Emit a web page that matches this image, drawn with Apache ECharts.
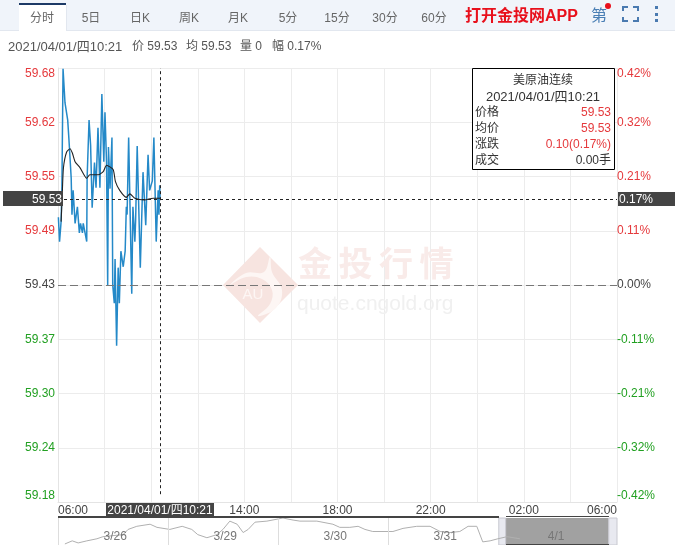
<!DOCTYPE html>
<html>
<head>
<meta charset="utf-8">
<style>html,body{margin:0;padding:0;background:#fff}#main{width:675px;height:545px}</style>
</head>
<body>
<div id="main"></div>
<script src="https://cdn.jsdelivr.net/npm/echarts@6/dist/echarts.min.js"></script>
<script>
// minutes after 06:00 for the intraday line
var priceMinutes = [1,4,8,10,13,18,25,28,32,34,36,39,44,50,55,58,63,65,74,75,80,84,88,94,98,103,106,108,113,118,121,125,128,130,134,139,141,145,147,151,155,158,162,168,173,176,178,182,190,193,198,200,204,212,219,224,226,232,236,243,247,253,258,260,262,263];
var priceValues = [59.508,59.480,59.503,59.539,59.679,59.640,59.620,59.599,59.598,59.553,59.511,59.539,59.501,59.520,59.490,59.501,59.490,59.501,59.480,59.553,59.620,59.591,59.519,59.571,59.542,59.611,59.611,59.542,59.650,59.572,59.629,59.572,59.430,59.589,59.541,59.600,59.430,59.409,59.460,59.360,59.450,59.409,59.469,59.451,59.469,59.520,59.511,59.600,59.420,59.520,59.480,59.505,59.590,59.450,59.560,59.560,59.499,59.580,59.539,59.550,59.600,59.480,59.539,59.511,59.545,59.530];
var avgMinutes = [8,11,14,22,31,37,44,57,74,82,104,117,125,142,148,159,176,185,198,223,245,258,263];
var avgValues = [59.503,59.535,59.565,59.583,59.587,59.582,59.572,59.565,59.553,59.557,59.557,59.561,59.568,59.563,59.549,59.539,59.531,59.535,59.530,59.528,59.530,59.530,59.530];

// overview strip: hours after the start of 3/26
var overviewHours = [1.5,3.1,4.4,6.3,8.5,9.8,12,14.2,15.3,17.2,20.1,21.6,24.4,27.1,29.2,30.5,32.5,34.7,36,37.5,39.1,40.4,41.5,43,45.6,49.1,51.3,52.8,56.5,60,61.5,63.7,65.5,67,68.7,73.1,75.3,78.3,81.2,83.4,85.5,87.7,89.5,91.4,92.7,94.3,96,98,100.8];
var overviewValues = [58.25,59,58.5,59,59.5,60,60.25,60.5,61.75,62.5,63,62.25,61.75,62.5,61.75,60.5,59.75,60.5,61.75,63.75,63,61,61.75,63.5,63.75,64.5,64,63.75,63.75,63,62.25,62.25,62.5,61.75,61.25,61.25,62,62.5,62.5,61.25,61,61.25,62.5,62.5,58.75,59,59.5,60,59.5];
var overviewDays = ['3/26','3/29','3/30','3/31','4/1'];
var overviewDayTicks = [12.5,36.5,60.5,84.5,108.7];

var yTicks = [59.18,59.2425,59.305,59.3675,59.43,59.4925,59.555,59.6175,59.68];
var yLabels = ['59.18','59.24','59.30','59.37','59.43','59.49','59.55','59.62','59.68'];
var pctLabels = ['-0.42%','-0.32%','-0.21%','-0.11%','0.00%','0.11%','0.21%','0.32%','0.42%'];
var xLabels = ['06:00','10:00','14:00','18:00','22:00','02:00','06:00'];
var tabs = ['分时','5日','日K','周K','月K','5分','15分','30分','60分'];
var tabX = [42,91,140,189,238,288,337,385,434];

var prevClose = 59.43, curPrice = 59.529, curMinute = 263;
var curTime = '2021/04/01/四10:21';

var FONT = '"Liberation Sans","Noto Sans CJK SC",sans-serif';
var RED = '#e5393c', GREEN = '#22a022', GREY = '#444';

function zip(a, b) {
    return a.map(function (v, i) { return [v, b[i]]; });
}
function tickColor(v) {
    if (v > prevClose + 0.001) return RED;
    if (v < prevClose - 0.001) return GREEN;
    return GREY;
}
function txt(x, y, s, color, size, align, extra) {
    var st = { text: s, fill: color, font: (size || 12) + 'px ' + FONT, textAlign: align || 'left', textVerticalAlign: 'middle' };
    if (extra && extra.font) st.font = extra.font;
    return { type: 'text', x: x, y: y, z: 100, silent: true, style: st };
}
function rect(x, y, w, h, fill, stroke, z) {
    return { type: 'rect', z: z || 90, silent: true, shape: { x: x, y: y, width: w, height: h }, style: { fill: fill, stroke: stroke || null, lineWidth: 1 } };
}

var els = [];
// top tab bar
els.push(rect(0, 0, 675, 30, '#f0f4fa'));
els.push(rect(0, 30, 675, 1, '#e2e7ef'));
els.push(rect(19, 4, 47, 28, '#fff'));
els.push(rect(19, 3, 47, 2, '#1d3a66', null, 91));
els.push(rect(66, 5, 1, 26, '#e2e7ef', null, 91));
tabs.forEach(function (t, i) {
    els.push(txt(tabX[i], 19, t, '#666', 12, 'center'));
});
els.push(txt(465, 16.5, '打开金投网APP', '#e8101c', 16, 'left', { font: 'bold 16px ' + FONT }));
els.push(txt(599, 17, '第', '#4a7fb5', 16, 'center'));
els.push({ type: 'circle', z: 100, silent: true, shape: { cx: 608, cy: 6, r: 3 }, style: { fill: '#e8101c' } });
[[[623, 11], [623, 7], [628, 7]], [[633, 7], [638, 7], [638, 11]], [[638, 17], [638, 21], [633, 21]], [[628, 21], [623, 21], [623, 17]]].forEach(function (p) {
    els.push({ type: 'polyline', z: 100, silent: true, shape: { points: p }, style: { fill: null, stroke: '#4a7ab0', lineWidth: 2 } });
});
[7, 14, 20].forEach(function (y) {
    els.push(rect(655, y - 1, 3, 3, '#4a7ab0', null, 100));
});

// info line
els.push(txt(8, 47, curTime, '#555', 13));
els.push(txt(132, 47, '价 59.53', '#555'));
els.push(txt(186, 47, '均 59.53', '#555'));
els.push(txt(240, 47, '量 0', '#555'));
els.push(txt(272, 47, '幅 0.17%', '#555'));

// watermark
els.push({ type: 'polygon', z: 1, silent: true, shape: { points: [[260, 247], [298, 285], [260, 323], [223, 285]] }, style: { fill: '#f7e4e0' } });
els.push({ type: 'polygon', z: 1, silent: true, shape: { smooth: 0.4, points: [[270, 257], [272, 272], [282, 290], [276, 308], [258, 316], [270, 304], [272, 290], [262, 279], [246, 277], [230, 285], [246, 273], [264, 272]] }, style: { fill: '#fdf6f4' } });
els.push({ type: 'text', z: 1, silent: true, x: 253, y: 295, style: { text: 'AU', fill: '#fdf6f4', font: '15px ' + FONT, textAlign: 'center', textVerticalAlign: 'middle' } });
['金', '投', '行', '情'].forEach(function (c, i) {
    els.push({ type: 'text', z: 1, silent: true, x: 315 + i * 40.5, y: 263, style: { text: c, fill: '#f9ebe9', font: 'bold 34px "Noto Sans CJK SC"', textAlign: 'center', textVerticalAlign: 'middle' } });
});
els.push({ type: 'text', z: 1, silent: true, x: 297, y: 304, style: { text: 'quote.cngold.org', fill: '#f0f0f0', font: '21px ' + FONT, textAlign: 'left', textVerticalAlign: 'middle' } });

// crosshair tags
els.push(rect(3, 191, 60, 15, '#444'));
els.push(txt(62, 200, '59.53', '#fff', 12, 'right'));
els.push(rect(618, 192, 57, 14, '#444'));
els.push(txt(619, 200, '0.17%', '#fff', 12, 'left'));
els.push(rect(106, 503, 108, 14, '#444'));
els.push(txt(160, 511, curTime, '#fff', 12, 'center'));

// floating info box
els.push({ type: 'rect', z: 95, silent: true, shape: { x: 472.5, y: 68.5, width: 142, height: 101 }, style: { fill: '#fff', stroke: '#000', lineWidth: 1 } });
els.push(txt(543, 81, '美原油连续', '#333', 12, 'center'));
els.push(txt(543, 97, curTime, '#333', 13, 'center'));
var boxRows = [['价格', '59.53', RED], ['均价', '59.53', RED], ['涨跌', '0.10(0.17%)', RED], ['成交', '0.00手', '#333']];
boxRows.forEach(function (r, i) {
    els.push(txt(475, 113 + i * 16, r[0], '#333'));
    els.push(txt(611, 113 + i * 16, r[1], r[2], 12, 'right'));
});

// overview frame bits
els.push(rect(58, 516, 441, 2, '#444'));
els.push(rect(506, 516, 103, 1, '#444'));
els.push(rect(506, 544, 103, 1, '#444'));
els.push(rect(58, 518, 1, 27, '#ddd', null, 5));

var option = {
    animation: false,
    textStyle: { fontFamily: FONT },
    graphic: { elements: els },
    grid: [
        { left: 58, right: 58, top: 68, height: 434 },
        { left: 58, right: 58, top: 518, height: 27 }
    ],
    xAxis: [
        {
            type: 'value', gridIndex: 0, min: 0, max: 1440, interval: 120,
            axisLine: { lineStyle: { color: '#e4e4e4' } }, axisTick: { show: false },
            splitLine: { lineStyle: { color: '#ececec' } },
            axisLabel: {
                color: '#444', fontSize: 12, margin: 3, hideOverlap: false,
                alignMinLabel: 'left', alignMaxLabel: 'right',
                formatter: function (v) { return v % 240 === 0 ? xLabels[v / 240] : ''; }
            }
        },
        {
            type: 'value', gridIndex: 1, min: 0, max: 122, z: 6,
            axisLine: { show: false }, axisTick: { show: false }, splitLine: { show: false },
            axisLabel: {
                customValues: overviewDayTicks,
                inside: true, color: '#777', fontSize: 12, margin: 2, hideOverlap: false,
                formatter: function (v) { return overviewDays[overviewDayTicks.indexOf(v)]; }
            }
        }
    ],
    yAxis: [
        {
            type: 'value', gridIndex: 0, min: 59.18, max: 59.68,
            axisLine: { show: true, lineStyle: { color: '#e4e4e4' } },
            axisTick: { show: false, customValues: yTicks },
            splitLine: { lineStyle: { color: '#ececec' } },
            axisLabel: {
                customValues: yTicks, margin: 3, fontSize: 12,
                verticalAlignMinLabel: 'bottom', verticalAlignMaxLabel: 'top',
                color: tickColor,
                formatter: function (v) { return yLabels[yTicks.indexOf(v)]; }
            }
        },
        {
            type: 'value', gridIndex: 0, min: 59.18, max: 59.68, position: 'right',
            axisLine: { show: false },
            axisTick: { show: false, customValues: yTicks },
            splitLine: { show: false },
            axisLabel: {
                customValues: yTicks, margin: 0, fontSize: 12,
                verticalAlignMinLabel: 'bottom', verticalAlignMaxLabel: 'top',
                color: tickColor,
                formatter: function (v) { return pctLabels[yTicks.indexOf(v)]; }
            }
        },
        {
            type: 'value', gridIndex: 1, min: 58, max: 64.5,
            axisLine: { show: false }, axisTick: { show: false },
            axisLabel: { show: false }, splitLine: { show: false }
        }
    ],
    series: [
        {
            name: '价格', type: 'line', xAxisIndex: 0, yAxisIndex: 0, z: 3,
            data: zip(priceMinutes, priceValues), showSymbol: false,
            lineStyle: { color: '#2489c8', width: 1.5 },
            markLine: {
                silent: true, symbol: 'none', animation: false, label: { show: false },
                data: [
                    [{ coord: [0, prevClose], lineStyle: { color: '#777', type: [8, 4], width: 1 } }, { coord: [1440, prevClose] }],
                    [{ coord: [0, curPrice], lineStyle: { color: '#222', type: [3, 3], width: 1 } }, { coord: [1440, curPrice] }],
                    [{ coord: [curMinute, 59.189], lineStyle: { color: '#222', type: [3, 3], width: 1 } }, { coord: [curMinute, 59.68] }]
                ]
            }
        },
        {
            name: '均价', type: 'line', xAxisIndex: 0, yAxisIndex: 0, z: 4,
            data: zip(avgMinutes, avgValues), showSymbol: false, smooth: 0.2,
            lineStyle: { color: '#222', width: 1.1 }
        },
        {
            name: '总览', type: 'line', xAxisIndex: 1, yAxisIndex: 2, z: 3,
            data: zip(overviewHours, overviewValues), showSymbol: false,
            lineStyle: { color: '#b0b0b0', width: 1 },
            markLine: {
                silent: true, symbol: 'none', animation: false, label: { show: false },
                lineStyle: { color: '#ddd', type: 'solid', width: 1 },
                data: [{ xAxis: 24 }, { xAxis: 48 }, { xAxis: 72 }]
            },
            markArea: {
                silent: true,
                data: [
                    [{ xAxis: 97.7, itemStyle: { color: 'rgba(110,110,110,0.65)' } }, { xAxis: 120.2 }],
                    [{ xAxis: 96.2, itemStyle: { color: '#e8e9f0', borderColor: '#c8c8d0', borderWidth: 1 } }, { xAxis: 97.7 }],
                    [{ xAxis: 120.2, itemStyle: { color: '#e8e9f0', borderColor: '#c8c8d0', borderWidth: 1 } }, { xAxis: 122 }]
                ]
            }
        }
    ]
};

var myChart = echarts.init(document.getElementById('main'));
myChart.setOption(option);
</script>
</body>
</html>
